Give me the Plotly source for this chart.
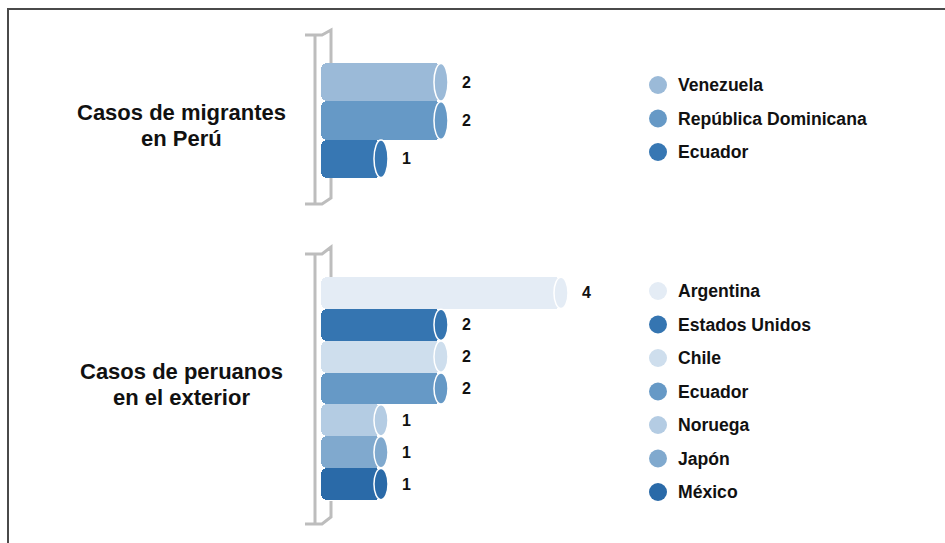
import plotly.graph_objects as go

W, H = 945, 543

# ---------------- data ----------------
g1_countries = ["Venezuela", "República Dominicana", "Ecuador"]
g1_values = [2, 2, 1]
g1_colors = ["#9bbad8", "#6699c6", "#3777b3"]

g2_countries = ["Argentina", "Estados Unidos", "Chile", "Ecuador", "Noruega", "Japón", "México"]
g2_values = [4, 2, 2, 2, 1, 1, 1]
g2_colors = ["#e4ecf5", "#3575b1", "#cedeed", "#6699c6", "#b4cce3", "#80a9ce", "#2a6aa8"]

g1_title = ["Casos de migrantes", "en Perú"]
g2_title = ["Casos de peruanos", "en el exterior"]

FONT = "Liberation Sans, Arial, sans-serif"
PX_PER_UNIT = 60
X0_PX = 321

fig = go.Figure()

groups = [
    dict(countries=g1_countries, values=g1_values, colors=g1_colors, yaxis="y", yref="y",
         title=g1_title, title_y=(112, 138),
         leg_start=85, bracket=(35, 30, 63, 178, 198, 204)),
    dict(countries=g2_countries, values=g2_values, colors=g2_colors, yaxis="y2", yref="y2",
         title=g2_title, title_y=(371, 397),
         leg_start=291, bracket=(254, 247, 277, 501, 517, 524)),
]

shapes = []
annotations = []
LEG_STEP = 33.5

for g in groups:
    n = len(g["values"])
    idx = list(range(n))
    # bar bodies (drawn from value back to 0 so the rounded end is on the left)
    fig.add_trace(go.Bar(
        orientation="h",
        y=idx,
        x=[-v for v in g["values"]],
        base=g["values"],
        width=1,
        marker=dict(color=g["colors"], cornerradius=6, line=dict(width=0)),
        xaxis="x", yaxis=g["yaxis"],
        showlegend=False, hoverinfo="skip",
    ))
    # cylinder end caps + value labels
    for i, (v, c) in enumerate(zip(g["values"], g["colors"])):
        shapes.append(dict(type="circle", xref="x", yref=g["yref"],
                           x0=v - 0.117, x1=v + 0.117, y0=i - 0.49, y1=i + 0.49,
                           fillcolor=c, line=dict(color="white", width=1.5), layer="above"))
        annotations.append(dict(x=v, y=i, xref="x", yref=g["yref"], xshift=25,
                                text=f"<b>{v}</b>", showarrow=False,
                                font=dict(family=FONT, size=16, color="#111111")))
    # group title (two lines)
    for line, ty in zip(g["title"], g["title_y"]):
        annotations.append(dict(x=181, y=ty, xref="x3", yref="y3", text=f"<b>{line}</b>",
                                showarrow=False, xanchor="center", yanchor="middle",
                                font=dict(family=FONT, size=22, color="#111111")))
    # legend
    ly = [g["leg_start"] + k * LEG_STEP for k in range(n)]
    fig.add_trace(go.Scatter(
        x=[658] * n, y=ly, mode="markers",
        marker=dict(size=18, color=g["colors"], line=dict(width=0)),
        xaxis="x3", yaxis="y3", showlegend=False, hoverinfo="skip",
    ))
    for name, yy in zip(g["countries"], ly):
        annotations.append(dict(x=676, y=yy, xref="x3", yref="y3", text=f"<b>{name}</b>",
                                showarrow=False, xanchor="left", yanchor="middle",
                                font=dict(family=FONT, size=17.6, color="#111111")))
    # bracket (3D axis)
    t_front, t_back, back_hide_top, back_hide_bot, b_back, b_front = g["bracket"]
    gray = "#bdbdbd"
    path = (f"M 305 {t_front} L 322 {t_front} L 331 {t_back} L 331 {back_hide_top} "
            f"M 315 {t_front} L 315 {b_front} "
            f"M 305 {b_front} L 322 {b_front} L 331 {b_back} L 331 {back_hide_bot}")
    shapes.append(dict(type="path", xref="x3", yref="y3", path=path,
                       line=dict(color=gray, width=3), layer="below"))

# frame lines
shapes.append(dict(type="line", xref="x3", yref="y3", x0=7, x1=945, y0=9, y1=9,
                   line=dict(color="#4a4a4a", width=2)))
shapes.append(dict(type="line", xref="x3", yref="y3", x0=8, x1=8, y0=9, y1=543,
                   line=dict(color="#4a4a4a", width=2)))

hidden = dict(visible=False, showgrid=False, zeroline=False, fixedrange=True)
fig.update_layout(
    width=W, height=H,
    margin=dict(l=0, r=0, t=0, b=0),
    paper_bgcolor="white", plot_bgcolor="rgba(0,0,0,0)",
    bargap=0, barmode="overlay",
    showlegend=False,
    xaxis=dict(domain=[X0_PX / W, 1], range=[0, (W - X0_PX) / PX_PER_UNIT], **hidden),
    yaxis=dict(domain=[1 - 178 / H, 1 - 63 / H], range=[len(g1_values) - 0.5, -0.5],
               anchor="x", **hidden),
    yaxis2=dict(domain=[1 - 500 / H, 1 - 277 / H], range=[len(g2_values) - 0.5, -0.5],
                anchor="x", **hidden),
    xaxis3=dict(domain=[0, 1], range=[0, W], anchor="y3", **hidden),
    yaxis3=dict(domain=[0, 1], range=[H, 0], anchor="x3", **hidden),
    shapes=shapes,
    annotations=annotations,
)

fig.write_html("out.html")
